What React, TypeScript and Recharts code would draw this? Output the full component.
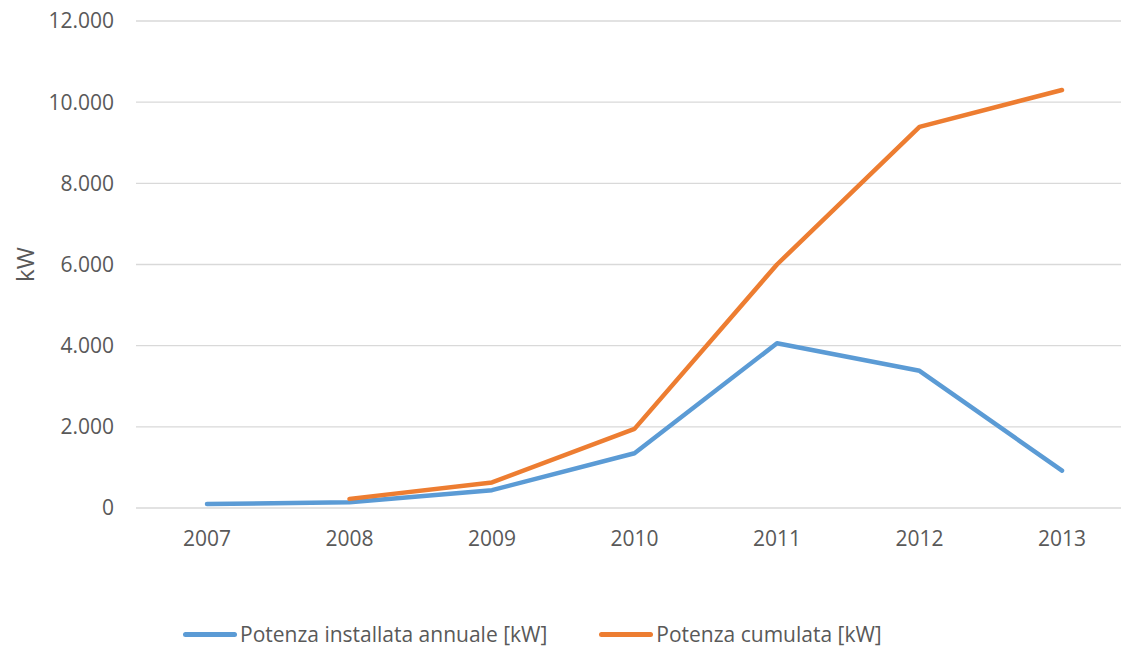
import React from 'react';
import { LineChart, Line, XAxis, YAxis, CartesianGrid, Legend } from 'recharts';

const years = ['2007', '2008', '2009', '2010', '2011', '2012', '2013'];
const annualKW = [100, 140, 440, 1350, 4060, 3380, 920];
const cumulativeKW: (number | null)[] = [null, 225, 630, 1950, 6000, 9390, 10300];
const yTicks = [0, 2000, 4000, 6000, 8000, 10000, 12000];
const seriesNames = ['Potenza installata annuale [kW]', 'Potenza cumulata [kW]'];
const seriesColors = ['#5B9BD5', '#ED7D31'];

const data = years.map((y, i) => ({ year: y, annual: annualKW[i], cumulative: cumulativeKW[i] }));

const FONT = "'Open Sans', sans-serif";
const TEXT = '#595959';

const fmt = (v: number) => String(v).replace(/\B(?=(\d{3})+(?!\d))/g, '.');

const renderLegend = (props: any) => {
  const payload = [...(props.payload || [])].sort(
    (a: any, b: any) => seriesNames.indexOf(a.value) - seriesNames.indexOf(b.value)
  );
  return (
    <div style={{ display: 'flex', alignItems: 'center', height: 26, paddingLeft: 183, fontFamily: FONT, fontSize: 21, lineHeight: '26px', color: TEXT }}>
      {payload.map((p: any, i: number) => (
        <div key={i} style={{ display: 'flex', alignItems: 'center', marginLeft: i === 0 ? 0 : 52 }}>
          <div style={{ width: 54, height: 5, borderRadius: 3, background: p.color, marginRight: 3 }} />
          <span style={{ whiteSpace: 'nowrap' }}>{p.value}</span>
        </div>
      ))}
    </div>
  );
};

const YLabel = (props: any) => {
  const vb = props.viewBox || { x: 0, y: 0, width: 0, height: 0 };
  const cx = vb.x + 24;
  const cy = vb.y + vb.height / 2;
  return (
    <text x={cx} y={cy} transform={`rotate(-90, ${cx}, ${cy})`} textAnchor="middle" dominantBaseline="central"
      fill={TEXT} fontFamily={FONT} fontSize={24}>kW</text>
  );
};

export default function App() {
  return (
    <div style={{ position: 'absolute', left: 0, top: 0, width: 1121, height: 647, overflow: 'hidden', background: '#fff' }}>
      <LineChart width={1140} height={647} data={data} margin={{ top: 21, right: 7, left: 0, bottom: 0 }}>
        <CartesianGrid horizontal vertical={false} stroke="#D9D9D9" strokeWidth={1.3} />
        <XAxis dataKey="year" axisLine={false} tickLine={false} height={113} tickMargin={17}
          padding={{ left: 71, right: 71 }} interval={0}
          tick={{ fill: TEXT, fontFamily: FONT, fontSize: 21 }} />
        <YAxis width={136} domain={[0, 12000]} ticks={yTicks} axisLine={false} tickLine={false} tickMargin={16}
          tickFormatter={fmt} tick={{ fill: TEXT, fontFamily: FONT, fontSize: 21 }} label={{ content: YLabel }} />
        <Legend verticalAlign="bottom" height={26} content={renderLegend}
          wrapperStyle={{ left: 0, width: 1121, bottom: 0 }} />
        <Line type="linear" dataKey="annual" name={seriesNames[0]} stroke={seriesColors[0]} strokeWidth={4.5}
          strokeLinecap="round" strokeLinejoin="round" dot={false} activeDot={false} isAnimationActive={false} />
        <Line type="linear" dataKey="cumulative" name={seriesNames[1]} stroke={seriesColors[1]} strokeWidth={4.5}
          strokeLinecap="round" strokeLinejoin="round" dot={false} activeDot={false} isAnimationActive={false} />
      </LineChart>
    </div>
  );
}
